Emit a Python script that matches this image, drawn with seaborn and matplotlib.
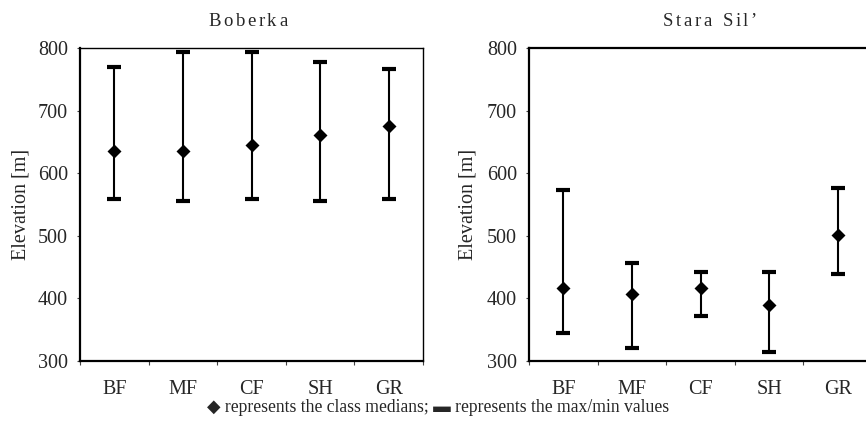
import numpy as np
import pandas as pd
import matplotlib
matplotlib.use("Agg")
import matplotlib.pyplot as plt
import seaborn as sns

classes = ["BF", "MF", "CF", "SH", "GR"]
boberka_min = [558, 555, 558, 555, 558]
boberka_median = [635, 635, 645, 661, 675]
boberka_max = [770, 793, 793, 777, 767]
stara_min = [344, 320, 372, 314, 439]
stara_median = [417, 407, 417, 389, 501]
stara_max = [573, 457, 442, 442, 576]
y_ticks = [300, 400, 500, 600, 700, 800]
titles = ["Boberka", "Stara Sil\u2019"]
ylabel = "Elevation [m]"
note = "\u25c6 represents the class medians; \u25ac represents the max/min values"

sns.set_style("white")
plt.rcParams["font.family"] = ["Liberation Serif", "DejaVu Sans"]


def long_frame(mins, meds, maxs):
    rows = []
    for c, a, b, d in zip(classes, mins, meds, maxs):
        for stat, v in (("min", a), ("median", b), ("max", d)):
            rows.append({"class": c, "stat": stat, "value": v})
    return pd.DataFrame(rows)


frames = [long_frame(boberka_min, boberka_median, boberka_max),
          long_frame(stara_min, stara_median, stara_max)]

fig = plt.figure(figsize=(8.66, 4.38), dpi=100)
W, H = 866, 438
ax_lefts = [80, 529]
ax_w = 343
top_px, bot_px = 48, 361
title_x = [248, 710]
label_x = [31, 477]


def spaced_text(fig, cx, cy, s, size, letter_gap, word_gap):
    renderer = fig.canvas.get_renderer()
    widths = []
    for ch in s:
        if ch == " ":
            widths.append(None)
            continue
        t = fig.text(0, 0, ch, fontsize=size)
        widths.append(t.get_window_extent(renderer).width)
        t.remove()
    total = 0
    for w in widths:
        total += (word_gap if w is None else w + letter_gap)
    total -= letter_gap
    x = cx - total / 2
    for ch, w in zip(s, widths):
        if w is None:
            x += word_gap
            continue
        fig.text(x / W, 1 - cy / H, ch, fontsize=size, ha="left", va="center")
        x += w + letter_gap


for i, df in enumerate(frames):
    ax = fig.add_axes([ax_lefts[i] / W, 1 - bot_px / H, ax_w / W, (bot_px - top_px) / H])
    sns.pointplot(data=df, x="class", y="value", order=classes, estimator="median",
                  errorbar=lambda v: (v.min(), v.max()), color="black",
                  marker="D", markersize=5.5, linestyle="none",
                  err_kws={"linewidth": 1.5}, ax=ax)
    for est in ("min", "max"):
        sns.pointplot(data=df, x="class", y="value", order=classes, estimator=est,
                      errorbar=None, color="black", marker="_", markersize=9.5,
                      markeredgewidth=3, linestyle="none", ax=ax)
    ax.set_ylim(300, 800)
    ax.set_xlim(-0.5, 4.5)
    ax.set_yticks(y_ticks)
    ax.set_xticks(range(len(classes)))
    ax.set_xticklabels(classes)
    ax.set_xticks(np.arange(-0.5, len(classes)), minor=True)
    ax.tick_params(axis="x", which="major", length=0, pad=13.5, labelsize=14.5)
    ax.tick_params(axis="x", which="minor", length=3, width=0.8, direction="out",
                   color="#444", bottom=True)
    ax.tick_params(axis="y", length=2.5, width=0.8, direction="out", color="#444",
                   pad=6, labelsize=14.5, left=True)
    ax.set_xlabel("")
    ax.set_ylabel(ylabel, fontsize=14.5)
    ax.yaxis.set_label_coords((label_x[i] - ax_lefts[i]) / ax_w, 0.5)
    for s in ("left", "bottom"):
        ax.spines[s].set_linewidth(1.6)
        ax.spines[s].set_color("black")
    ax.spines["top"].set_linewidth(1.6 if i == 1 else 1.0)
    ax.spines["top"].set_color("black")
    ax.spines["right"].set_linewidth(1.0)
    ax.spines["right"].set_color("black")
    ax.grid(False)
    spaced_text(fig, title_x[i], 21, titles[i], 13.5, 2.5, 8)

fig.text(438 / W, 1 - 408 / H, note, ha="center", va="center", fontsize=12.7)
fig.savefig("out.png", dpi=100)
